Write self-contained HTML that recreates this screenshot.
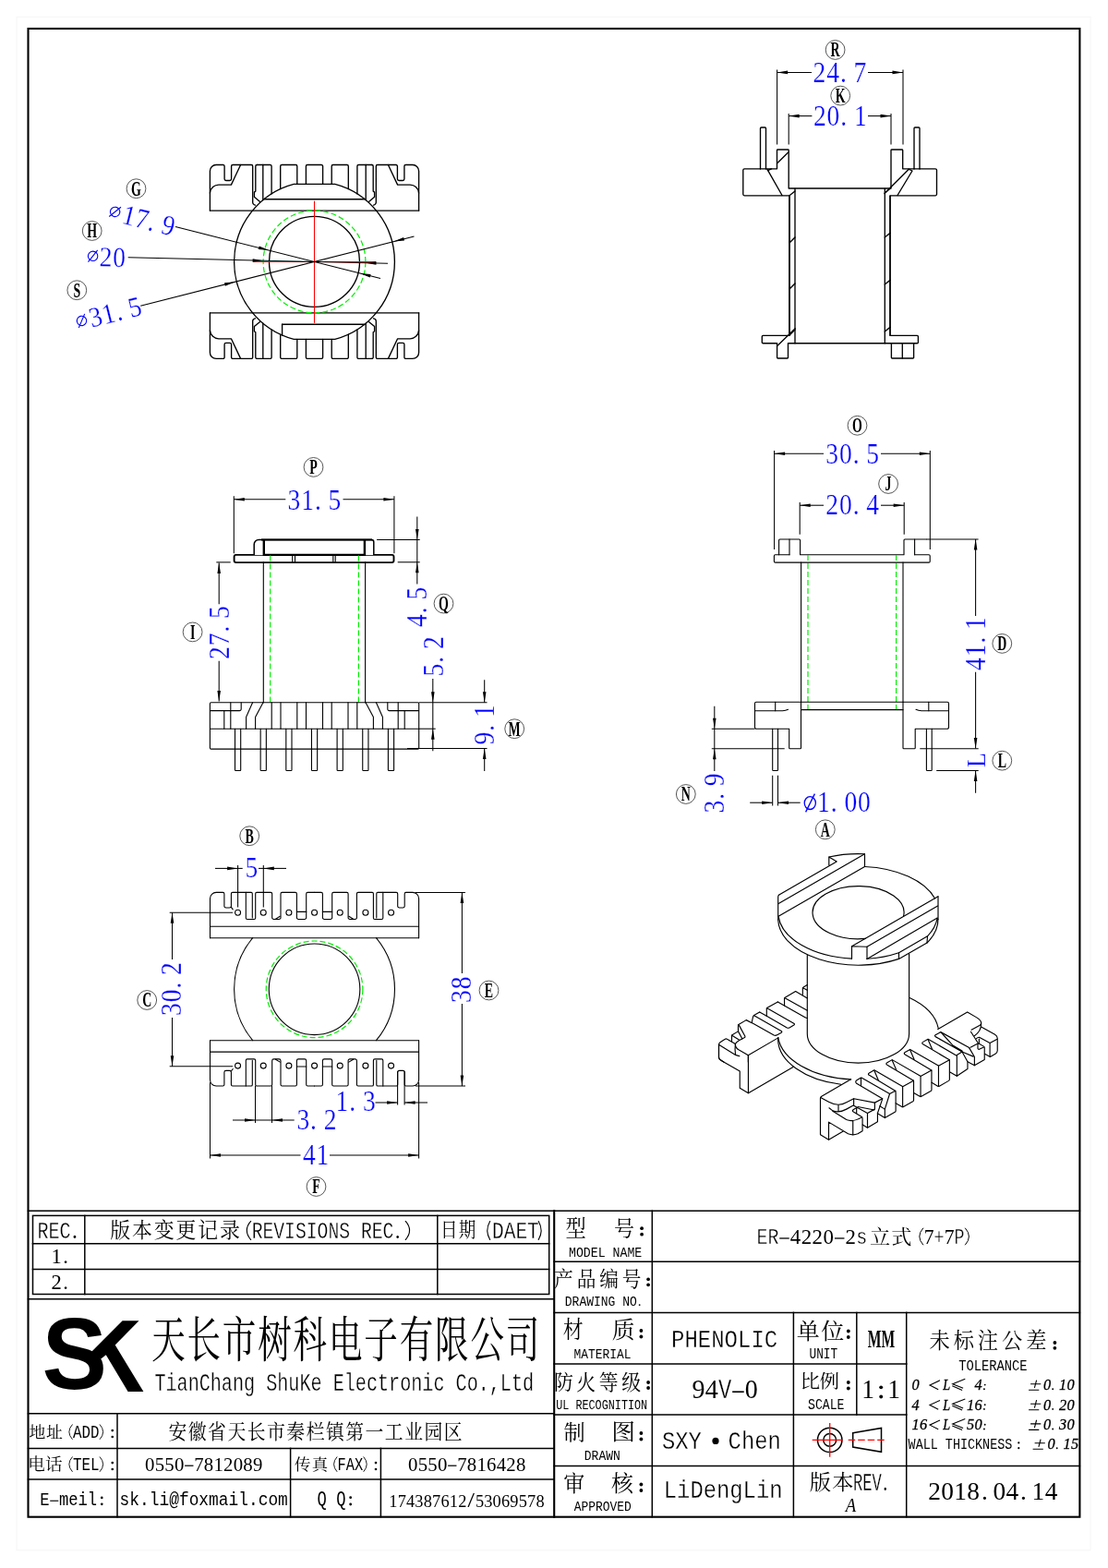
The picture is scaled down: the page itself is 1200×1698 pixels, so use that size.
<!DOCTYPE html>
<html><head><meta charset="utf-8"><title>ER-4220-2s</title>
<style>html,body{margin:0;padding:0;background:#fff}svg{display:block}
.o{fill:none;stroke:#000;stroke-width:1.35;stroke-linecap:round;stroke-linejoin:round}
.d{fill:none;stroke:#000;stroke-width:1.05;stroke-linecap:butt}
.t{fill:none;stroke:#000;stroke-width:1.5;stroke-linecap:square}
.T{fill:none;stroke:#000;stroke-width:2.1;stroke-linecap:square}
.g{fill:none;stroke:#00f000;stroke-width:1.2;stroke-dasharray:6 3}
.r{fill:none;stroke:#f00;stroke-width:1.1}
.af{fill:#000;stroke:none}
.c{fill:none;stroke:#444;stroke-width:0.9}
text{white-space:pre}
.thin .o{stroke-width:1.1}
.iso .o{stroke-width:1.15}
svg{will-change:transform}
</style></head>
<body><svg width="1200" height="1698" viewBox="0 0 1200 1698">
<rect width="1200" height="1698" fill="#fff"/>
<rect x="18" y="18.3" width="1163" height="1660.5" fill="none" stroke="#f6f6f6" stroke-width="1"/>
<rect class="T" x="30.5" y="31" width="1138.9" height="1611.7"/>
<path class="t" d="M30.50 1311.20L1169.40 1311.20"/>
<rect class="t" x="35.5" y="1316.4" width="559.2" height="85.1"/>
<path class="t" d="M35.50 1346.80L594.70 1346.80"/>
<path class="t" d="M35.50 1374.40L594.70 1374.40"/>
<path class="t" d="M91.80 1316.40L91.80 1401.50"/>
<path class="t" d="M473.80 1316.40L473.80 1401.50"/>
<path class="t" d="M30.50 1406.70L600.00 1406.70"/>
<path class="T" d="M600.20 1311.20L600.20 1642.70"/>
<path class="t" d="M30.50 1530.80L600.00 1530.80"/>
<path class="t" d="M30.50 1568.40L600.00 1568.40"/>
<path class="t" d="M30.50 1602.10L600.00 1602.10"/>
<path class="t" d="M127.00 1530.80L127.00 1642.70"/>
<path class="t" d="M314.60 1568.40L314.60 1642.70"/>
<path class="t" d="M412.40 1568.40L412.40 1642.70"/>
<path class="t" d="M600.00 1366.30L1169.40 1366.30"/>
<path class="t" d="M600.00 1421.40L1169.40 1421.40"/>
<path class="t" d="M600.00 1477.00L981.70 1477.00"/>
<path class="t" d="M600.00 1532.00L981.70 1532.00"/>
<path class="t" d="M600.00 1587.40L1169.40 1587.40"/>
<path class="t" d="M706.30 1311.20L706.30 1642.70"/>
<path class="t" d="M859.40 1421.40L859.40 1642.70"/>
<path class="t" d="M927.80 1421.40L927.80 1532.00"/>
<path class="t" d="M981.70 1421.40L981.70 1642.70"/>
<text transform="translate(40.60,1341.00) scale(0.7531,1)" font-family="'Liberation Mono',monospace" font-size="26.56" fill="#000" x="0.00 15.93 31.87" stroke="#fff" stroke-width="0.35">REC</text>
<text transform="translate(76.60,1341.00) scale(0.8938,1)" font-family="'Liberation Serif',serif" font-size="26.32" fill="#000" x="1.61" >.</text>
<text transform="translate(119.31,1340.12) scale(0.9694,1)" font-family="'Liberation Serif','Noto Serif CJK SC',serif" font-size="22.57" fill="#000" x="0.00 24.48 48.96 73.44 97.92 122.40">版本变更记录</text>
<path d="M271.68 1322.47Q262.93 1332.50 271.68 1342.53" fill="none" stroke="#000" stroke-width="1.10" stroke-linecap="round"/>
<text transform="translate(272.63,1341.00) scale(0.7643,1)" font-family="'Liberation Mono',monospace" font-size="25.80" fill="#000" x="0.00 15.48 30.96 46.43 61.91 77.39 92.87 108.35 123.82" stroke="#fff" stroke-width="0.35">REVISIONS</text>
<text transform="translate(390.93,1341.00) scale(0.7643,1)" font-family="'Liberation Mono',monospace" font-size="25.80" fill="#000" x="0.00 15.48 30.96" stroke="#fff" stroke-width="0.35">REC</text>
<text transform="translate(426.42,1341.00) scale(0.9070,1)" font-family="'Liberation Serif',serif" font-size="25.56" fill="#000" x="1.57" >.</text>
<path d="M439.20 1322.47Q447.95 1332.50 439.20 1342.53" fill="none" stroke="#000" stroke-width="1.10" stroke-linecap="round"/>
<text transform="translate(55.20,1368.00)" font-family="'Liberation Serif',serif" font-size="22.56" fill="#000" x="0.19 13.05" >1.</text>
<text transform="translate(55.20,1395.70)" font-family="'Liberation Serif',serif" font-size="22.56" fill="#000" x="0.19 13.05" >2.</text>
<text transform="translate(477.05,1338.98) scale(0.8600,1)" font-family="'Liberation Serif','Noto Serif CJK SC',serif" font-size="21.58" fill="#000" x="0.00 22.79">日期</text>
<path d="M530.68 1322.47Q524.90 1332.50 530.68 1342.53" fill="none" stroke="#000" stroke-width="1.10" stroke-linecap="round"/>
<text transform="translate(533.00,1341.00) scale(0.8205,1)" font-family="'Liberation Mono',monospace" font-size="25.80" fill="#000" x="0.00 15.48 30.96 46.43" stroke="#fff" stroke-width="0.35">DAET</text>
<path d="M583.22 1322.47Q589.00 1332.50 583.22 1342.53" fill="none" stroke="#000" stroke-width="1.10" stroke-linecap="round"/>
<path fill="#000" d="M132.6 1430.2L150.5 1430.2L124.7 1456.4L155.4 1507.1L138.6 1507.1L114.8 1467.2L109.3 1471.6L99 1464Z"/>
<text transform="translate(45.60,1504.40) scale(0.9590,1)" font-family="'Liberation Sans',sans-serif" font-size="110.20" fill="#000" font-weight="bold" >S</text>
<text transform="translate(164.16,1470.42) scale(0.6865,1)" font-family="'Liberation Serif','Noto Serif CJK SC',serif" font-size="53.11" fill="#000" x="0.00 55.88 111.76 167.63 223.51 279.39 335.27 391.15 447.03 502.91 558.78">天长市树科电子有限公司</text>
<text transform="translate(167.40,1506.10) scale(0.7095,1)" font-family="'Liberation Mono',monospace" font-size="28.38" fill="#000" x="0.00 17.03 34.05 51.08 68.10 85.13 102.15 119.18 136.21" stroke="#fff" stroke-width="0.35">TianChang</text>
<text transform="translate(288.20,1506.10) scale(0.7095,1)" font-family="'Liberation Mono',monospace" font-size="28.38" fill="#000" x="0.00 17.03 34.05 51.08 68.10" stroke="#fff" stroke-width="0.35">ShuKe</text>
<text transform="translate(360.68,1506.10) scale(0.7095,1)" font-family="'Liberation Mono',monospace" font-size="28.38" fill="#000" x="0.00 17.03 34.05 51.08 68.10 85.13 102.15 119.18 136.21 153.23" stroke="#fff" stroke-width="0.35">Electronic</text>
<text transform="translate(493.56,1506.10) scale(0.7095,1)" font-family="'Liberation Mono',monospace" font-size="28.38" fill="#000" x="0.00 17.03 34.05 51.08 68.10 85.13 102.15" stroke="#fff" stroke-width="0.35">Co.,Ltd</text>
<text transform="translate(31.41,1556.57) scale(1.0778,1)" font-family="'Liberation Serif','Noto Serif CJK SC',serif" font-size="16.59" fill="#000" x="0.00 17.35">地址</text>
<path d="M78.24 1542.80Q71.21 1550.65 78.24 1558.50" fill="none" stroke="#000" stroke-width="0.90" stroke-linecap="round"/>
<text transform="translate(79.00,1557.30) scale(0.7845,1)" font-family="'Liberation Mono',monospace" font-size="20.18" fill="#000" x="0.00 12.11 24.22" >ADD</text>
<path d="M108.26 1542.80Q115.29 1550.65 108.26 1558.50" fill="none" stroke="#000" stroke-width="0.90" stroke-linecap="round"/>
<circle cx="121.75" cy="1549.05" r="1.33" fill="#000"/><circle cx="121.75" cy="1555.97" r="1.33" fill="#000"/>
<text transform="translate(182.53,1558.06) scale(0.9290,1)" font-family="'Liberation Serif','Noto Serif CJK SC',serif" font-size="21.29" fill="#000" x="0.00 22.93 45.86 68.78 91.71 114.64 137.57 160.50 183.42 206.35 229.28 252.21 275.14 298.06 320.99">安徽省天长市秦栏镇第一工业园区</text>
<text transform="translate(30.24,1592.40) scale(1.0480,1)" font-family="'Liberation Serif','Noto Serif CJK SC',serif" font-size="17.72" fill="#000" x="0.00 17.84">电话</text>
<path d="M78.24 1577.80Q71.21 1585.65 78.24 1593.50" fill="none" stroke="#000" stroke-width="0.90" stroke-linecap="round"/>
<text transform="translate(79.00,1592.30) scale(0.7845,1)" font-family="'Liberation Mono',monospace" font-size="20.18" fill="#000" x="0.00 12.11 24.22" >TEL</text>
<path d="M108.26 1577.80Q115.29 1585.65 108.26 1593.50" fill="none" stroke="#000" stroke-width="0.90" stroke-linecap="round"/>
<circle cx="121.75" cy="1584.05" r="1.33" fill="#000"/><circle cx="121.75" cy="1590.97" r="1.33" fill="#000"/>
<text transform="translate(157.00,1592.60) scale(0.9481,1)" font-family="'Liberation Serif',serif" font-size="21.95" fill="#000" x="0.11 11.31 22.51 33.72" >0550</text>
<path d="M200.12 1587.20H209.46" stroke="#000" stroke-width="1.24" fill="none"/>
<text transform="translate(210.10,1592.60) scale(0.9481,1)" font-family="'Liberation Serif',serif" font-size="21.95" fill="#000" x="0.11 11.31 22.51 33.72 44.92 56.12 67.32" >7812089</text>
<text transform="translate(318.94,1591.92) scale(1.0050,1)" font-family="'Liberation Serif','Noto Serif CJK SC',serif" font-size="17.37" fill="#000" x="0.00 18.60">传真</text>
<path d="M364.86 1577.80Q358.06 1585.65 364.86 1593.50" fill="none" stroke="#000" stroke-width="0.90" stroke-linecap="round"/>
<text transform="translate(365.60,1592.30) scale(0.7597,1)" font-family="'Liberation Mono',monospace" font-size="20.18" fill="#000" x="0.00 12.11 24.22" >FAX</text>
<path d="M393.94 1577.80Q400.74 1585.65 393.94 1593.50" fill="none" stroke="#000" stroke-width="0.90" stroke-linecap="round"/>
<circle cx="407.00" cy="1584.05" r="1.33" fill="#000"/><circle cx="407.00" cy="1590.97" r="1.33" fill="#000"/>
<text transform="translate(442.00,1592.60) scale(0.9481,1)" font-family="'Liberation Serif',serif" font-size="21.95" fill="#000" x="0.11 11.31 22.51 33.72" >0550</text>
<path d="M485.12 1587.20H494.46" stroke="#000" stroke-width="1.24" fill="none"/>
<text transform="translate(495.10,1592.60) scale(0.9481,1)" font-family="'Liberation Serif',serif" font-size="21.95" fill="#000" x="0.11 11.31 22.51 33.72 44.92 56.12 67.32" >7816428</text>
<text transform="translate(43.30,1630.20) scale(0.8442,1)" font-family="'Liberation Mono',monospace" font-size="20.33" fill="#000" x="0.00" >E</text>
<path d="M54.22 1625.24H63.28" stroke="#000" stroke-width="1.14" fill="none"/>
<text transform="translate(63.90,1630.20) scale(0.8442,1)" font-family="'Liberation Mono',monospace" font-size="20.33" fill="#000" x="0.00 12.20 24.40 36.60" >meil</text>
<circle cx="110.25" cy="1621.89" r="1.34" fill="#000"/><circle cx="110.25" cy="1628.86" r="1.34" fill="#000"/>
<text transform="translate(129.60,1630.20) scale(0.8787,1)" font-family="'Liberation Mono',monospace" font-size="20.33" fill="#000" x="0.00 12.20 24.40 36.60 48.80 61.00 73.20 85.40 97.60 109.80 122.00 134.20 146.40 158.60 170.80 183.00 195.20" >sk.li@foxmail.com</text>
<text transform="translate(343.60,1630.40) scale(0.8081,1)" font-family="'Liberation Mono',monospace" font-size="21.24" fill="#000" x="0.00" >Q</text>
<text transform="translate(364.20,1630.40) scale(0.8081,1)" font-family="'Liberation Mono',monospace" font-size="21.24" fill="#000" x="0.00" >Q</text>
<circle cx="379.65" cy="1621.72" r="1.40" fill="#000"/><circle cx="379.65" cy="1629.00" r="1.40" fill="#000"/>
<text transform="translate(421.20,1632.20) scale(0.9531,1)" font-family="'Liberation Serif',serif" font-size="19.25" fill="#000" x="0.10 9.92 19.74 29.56 39.38 49.20 59.02 68.84 78.66" >174387612</text>
<text transform="translate(505.44,1632.20) scale(0.8032,1)" font-family="'Liberation Mono',monospace" font-size="19.42" fill="#000" x="0.00" >/</text>
<text transform="translate(514.80,1632.20) scale(0.9531,1)" font-family="'Liberation Serif',serif" font-size="19.25" fill="#000" x="0.10 9.92 19.74 29.56 39.38 49.20 59.02 68.84" >53069578</text>
<text transform="translate(612.57,1338.71) scale(0.9006,1)" font-family="'Liberation Serif','Noto Serif CJK SC',serif" font-size="24.75" fill="#000">型</text>
<text transform="translate(665.05,1338.61) scale(0.9130,1)" font-family="'Liberation Serif','Noto Serif CJK SC',serif" font-size="24.18" fill="#000">号</text>
<circle cx="695.1" cy="1330.2" r="1.9"/><circle cx="695.1" cy="1336.7" r="1.9"/>
<text transform="translate(616.00,1360.50) scale(0.8798,1)" font-family="'Liberation Mono',monospace" font-size="15.02" fill="#000" x="0.00 9.01 18.03 27.04 36.05" >MODEL</text>
<text transform="translate(663.58,1360.50) scale(0.8798,1)" font-family="'Liberation Mono',monospace" font-size="15.02" fill="#000" x="0.00 9.01 18.03 27.04" >NAME</text>
<text transform="translate(600.05,1392.72) scale(0.8994,1)" font-family="'Liberation Serif','Noto Serif CJK SC',serif" font-size="23.07" fill="#000" x="0.00 27.35 54.70 82.05">产品编号</text>
<circle cx="702.1" cy="1385.3" r="1.9"/><circle cx="702.1" cy="1391.3" r="1.9"/>
<text transform="translate(611.80,1414.20) scale(0.8399,1)" font-family="'Liberation Mono',monospace" font-size="15.48" fill="#000" x="0.00 9.29 18.57 27.86 37.15 46.43 55.72" >DRAWING</text>
<text transform="translate(674.20,1414.20) scale(0.8399,1)" font-family="'Liberation Mono',monospace" font-size="15.48" fill="#000" x="0.00 9.29" >NO</text>
<text transform="translate(689.80,1414.20) scale(0.9967,1)" font-family="'Liberation Serif',serif" font-size="15.34" fill="#000" x="0.94" >.</text>
<text transform="translate(609.87,1448.97) scale(0.8564,1)" font-family="'Liberation Serif','Noto Serif CJK SC',serif" font-size="25.62" fill="#000">材</text>
<text transform="translate(662.84,1448.91) scale(0.9756,1)" font-family="'Liberation Serif','Noto Serif CJK SC',serif" font-size="25.43" fill="#000">质</text>
<circle cx="694.4" cy="1441" r="1.9"/><circle cx="694.4" cy="1447.5" r="1.9"/>
<text transform="translate(621.60,1471.20) scale(0.8345,1)" font-family="'Liberation Mono',monospace" font-size="15.48" fill="#000" x="0.00 9.29 18.57 27.86 37.15 46.43 55.72 65.01" >MATERIAL</text>
<text transform="translate(599.97,1505.23) scale(0.9067,1)" font-family="'Liberation Serif','Noto Serif CJK SC',serif" font-size="23.04" fill="#000" x="0.00 26.91 53.82 80.73">防火等级</text>
<circle cx="702.1" cy="1497" r="1.9"/><circle cx="702.1" cy="1503" r="1.9"/>
<text transform="translate(602.20,1525.60) scale(0.7613,1)" font-family="'Liberation Mono',monospace" font-size="15.48" fill="#000" x="0.00 9.29" >UL</text>
<text transform="translate(623.41,1525.60) scale(0.7613,1)" font-family="'Liberation Mono',monospace" font-size="15.48" fill="#000" x="0.00 9.29 18.57 27.86 37.15 46.43 55.72 65.01 74.29 83.58 92.87" >RECOGNITION</text>
<text transform="translate(610.44,1559.38) scale(1.0017,1)" font-family="'Liberation Serif','Noto Serif CJK SC',serif" font-size="23.25" fill="#000">制</text>
<text transform="translate(662.16,1559.37) scale(1.0940,1)" font-family="'Liberation Serif','Noto Serif CJK SC',serif" font-size="23.58" fill="#000">图</text>
<circle cx="694.4" cy="1552" r="1.9"/><circle cx="694.4" cy="1558.5" r="1.9"/>
<text transform="translate(632.80,1581.40) scale(0.8399,1)" font-family="'Liberation Mono',monospace" font-size="15.48" fill="#000" x="0.00 9.29 18.57 27.86 37.15" >DRAWN</text>
<text transform="translate(610.28,1615.14) scale(0.9680,1)" font-family="'Liberation Serif','Noto Serif CJK SC',serif" font-size="23.71" fill="#000">审</text>
<text transform="translate(661.94,1615.11) scale(1.0040,1)" font-family="'Liberation Serif','Noto Serif CJK SC',serif" font-size="23.82" fill="#000">核</text>
<circle cx="694.4" cy="1607.5" r="1.9"/><circle cx="694.4" cy="1614" r="1.9"/>
<text transform="translate(621.70,1636.40) scale(0.8345,1)" font-family="'Liberation Mono',monospace" font-size="15.48" fill="#000" x="0.00 9.29 18.57 27.86 37.15 46.43 55.72 65.01" >APPROVED</text>
<text transform="translate(819.60,1346.60) scale(0.8635,1)" font-family="'Liberation Mono',monospace" font-size="23.07" fill="#000" x="0.00 13.84" stroke="#fff" stroke-width="0.35">ER</text>
<path d="M844.22 1340.98H854.73" stroke="#000" stroke-width="1.29" fill="none"/>
<text transform="translate(855.45,1346.60)" font-family="'Liberation Serif',serif" font-size="22.86" fill="#000" x="0.26 12.21 24.16 36.11" >4220</text>
<path d="M903.97 1340.98H914.48" stroke="#000" stroke-width="1.29" fill="none"/>
<text transform="translate(915.20,1346.60)" font-family="'Liberation Serif',serif" font-size="22.86" fill="#000" x="0.26" >2</text>
<text transform="translate(927.15,1346.60) scale(0.8635,1)" font-family="'Liberation Mono',monospace" font-size="23.07" fill="#000" x="0.00" stroke="#fff" stroke-width="0.35">s</text>
<text transform="translate(941.94,1347.44) scale(1.0388,1)" font-family="'Liberation Serif','Noto Serif CJK SC',serif" font-size="21.37" fill="#000" x="0.00 22.43">立式</text>
<path d="M999.72 1330.03Q991.58 1339.00 999.72 1347.97" fill="none" stroke="#000" stroke-width="0.99" stroke-linecap="round"/>
<text transform="translate(1000.60,1346.60) scale(0.9433,1)" font-family="'Liberation Serif',serif" font-size="22.86" fill="#000" x="0.12" >7</text>
<text transform="translate(1011.60,1346.60) scale(0.7948,1)" font-family="'Liberation Mono',monospace" font-size="23.07" fill="#000" x="0.00" stroke="#fff" stroke-width="0.35">+</text>
<text transform="translate(1022.60,1346.60) scale(0.9433,1)" font-family="'Liberation Serif',serif" font-size="22.86" fill="#000" x="0.12" >7</text>
<text transform="translate(1033.60,1346.60) scale(0.7948,1)" font-family="'Liberation Mono',monospace" font-size="23.07" fill="#000" x="0.00" stroke="#fff" stroke-width="0.35">P</text>
<path d="M1045.48 1330.03Q1053.62 1339.00 1045.48 1347.97" fill="none" stroke="#000" stroke-width="0.99" stroke-linecap="round"/>
<text transform="translate(727.00,1458.60) scale(0.8503,1)" font-family="'Liberation Mono',monospace" font-size="28.22" fill="#000" x="0.00 16.93 33.87 50.80 67.74 84.67 101.61 118.54" stroke="#fff" stroke-width="0.35">PHENOLIC</text>
<text transform="translate(749.40,1514.40) scale(0.9608,1)" font-family="'Liberation Serif',serif" font-size="29.17" fill="#000" x="0.15 15.03" >94</text>
<text transform="translate(778.00,1514.40) scale(0.8096,1)" font-family="'Liberation Mono',monospace" font-size="29.44" fill="#000" x="0.00" stroke="#fff" stroke-width="0.35">V</text>
<path d="M793.16 1507.22H805.74" stroke="#000" stroke-width="1.65" fill="none"/>
<text transform="translate(806.60,1514.40) scale(0.9608,1)" font-family="'Liberation Serif',serif" font-size="29.17" fill="#000" x="0.15" >0</text>
<text transform="translate(717.00,1569.40) scale(0.8354,1)" font-family="'Liberation Mono',monospace" font-size="28.53" fill="#000" x="0.00 17.12 34.23" stroke="#fff" stroke-width="0.35">SXY</text>
<circle cx="775.0" cy="1560.4" r="3.6" fill="#000"/>
<text transform="translate(788.60,1569.40) scale(0.8354,1)" font-family="'Liberation Mono',monospace" font-size="28.53" fill="#000" x="0.00 17.12 34.23 51.35" stroke="#fff" stroke-width="0.35">Chen</text>
<text transform="translate(718.80,1622.40) scale(0.8444,1)" font-family="'Liberation Mono',monospace" font-size="28.22" fill="#000" x="0.00 16.93 33.87 50.80 67.74 84.67 101.61 118.54 135.48" stroke="#fff" stroke-width="0.35">LiDengLin</text>
<text transform="translate(862.87,1450.08) scale(1.0443,1)" font-family="'Liberation Serif','Noto Serif CJK SC',serif" font-size="23.95" fill="#000" x="0.00 25.18">单位</text>
<circle cx="918.8" cy="1441.5" r="1.9"/><circle cx="918.8" cy="1448" r="1.9"/>
<text transform="translate(876.50,1471.40) scale(0.7927,1)" font-family="'Liberation Mono',monospace" font-size="16.08" fill="#000" x="0.00 9.65 19.30 28.95" >UNIT</text>
<text transform="translate(954.50,1459.00) scale(0.5600,1)" font-family="'Liberation Serif',serif" font-size="27.80" fill="#000" text-anchor="middle" font-weight="bold" >MM</text>
<text transform="translate(866.41,1503.12) scale(1.0405,1)" font-family="'Liberation Serif','Noto Serif CJK SC',serif" font-size="20.73" fill="#000" x="0.00 20.37">比例</text>
<circle cx="918.8" cy="1497" r="1.9"/><circle cx="918.8" cy="1503.5" r="1.9"/>
<text transform="translate(875.00,1525.60) scale(0.8186,1)" font-family="'Liberation Mono',monospace" font-size="16.08" fill="#000" x="0.00 9.65 19.30 28.95 38.60" >SCALE</text>
<text transform="translate(933.20,1514.40) scale(0.9406,1)" font-family="'Liberation Serif',serif" font-size="29.17" fill="#000" x="0.15" >1</text>
<circle cx="954.20" cy="1502.37" r="1.94" fill="#000"/><circle cx="954.20" cy="1512.46" r="1.94" fill="#000"/>
<text transform="translate(961.20,1514.40) scale(0.9406,1)" font-family="'Liberation Serif',serif" font-size="29.17" fill="#000" x="0.15" >1</text>
<circle class="t" cx="898.70" cy="1559.40" r="13.20"/>
<circle class="t" cx="898.70" cy="1559.40" r="6.90"/>
<path d="M879.7 1559.4H912.7M898.7 1541V1577.8" fill="none" stroke="#f00" stroke-width="1.3"/>
<path class="t" d="M923.70 1551.70L954.50 1546.50L954.50 1572.30L923.70 1567.00Z" />
<path d="M918.7 1559.4H959.5" fill="none" stroke="#f00" stroke-width="1.3" stroke-dasharray="7.5 3"/>
<text transform="translate(876.77,1612.53) scale(1.0329,1)" font-family="'Liberation Serif','Noto Serif CJK SC',serif" font-size="22.52" fill="#000" x="0.00 23.82">版本</text>
<text transform="translate(924.00,1614.20) scale(0.6285,1)" font-family="'Liberation Mono',monospace" font-size="27.31" fill="#000" x="0.00 16.39 32.78" stroke="#fff" stroke-width="0.35">REV</text>
<text transform="translate(954.90,1614.20) scale(0.7458,1)" font-family="'Liberation Serif',serif" font-size="27.07" fill="#000" x="1.66" >.</text>
<text transform="translate(921.50,1637.00) scale(0.8500,1)" font-family="'Liberation Serif',serif" font-size="22.00" fill="#000" text-anchor="middle" font-style="italic" >A</text>
<text transform="translate(1006.46,1460.15) scale(0.9457,1)" font-family="'Liberation Serif','Noto Serif CJK SC',serif" font-size="23.57" fill="#000" x="0.00 27.70 55.41 83.11 110.82">未标注公差</text>
<circle cx="1142.4" cy="1454" r="1.9"/><circle cx="1142.4" cy="1459.8" r="1.9"/>
<text transform="translate(1038.20,1483.60) scale(0.8489,1)" font-family="'Liberation Mono',monospace" font-size="16.24" fill="#000" x="0.00 9.74 19.48 29.23 38.97 48.71 58.45 68.19 77.94" >TOLERANCE</text>
<text transform="translate(987.60,1505.20) scale(0.9700,1)" font-family="'Liberation Serif',serif" font-size="16.84" fill="#000" font-style="italic" stroke="#000" stroke-width="0.3">0</text>
<path d="M1018.00 1494.78L1007.00 1499.94L1016.20 1504.64" fill="none" stroke="#000" stroke-width="1.1"/>
<text transform="translate(1021.30,1505.20) scale(0.8500,1)" font-family="'Liberation Serif',serif" font-size="16.84" fill="#000" font-style="italic" stroke="#000" stroke-width="0.3">L</text>
<path d="M1045.30 1493.33L1031.70 1498.70L1043.10 1503.30M1031.30 1500.72L1042.10 1505.42" fill="none" stroke="#000" stroke-width="1.1"/>
<text transform="translate(1055.60,1505.20) scale(0.9700,1)" font-family="'Liberation Serif',serif" font-size="16.84" fill="#000" font-style="italic" stroke="#000" stroke-width="0.3">4</text>
<circle cx="1066.70" cy="1499.60" r="0.95"/><circle cx="1065.90" cy="1504.30" r="0.95"/>
<text transform="translate(987.60,1526.80) scale(0.9700,1)" font-family="'Liberation Serif',serif" font-size="16.84" fill="#000" font-style="italic" stroke="#000" stroke-width="0.3">4</text>
<path d="M1018.00 1516.38L1007.00 1521.54L1016.20 1526.24" fill="none" stroke="#000" stroke-width="1.1"/>
<text transform="translate(1021.30,1526.80) scale(0.8500,1)" font-family="'Liberation Serif',serif" font-size="16.84" fill="#000" font-style="italic" stroke="#000" stroke-width="0.3">L</text>
<path d="M1045.30 1514.93L1031.70 1520.30L1043.10 1524.90M1031.30 1522.32L1042.10 1527.02" fill="none" stroke="#000" stroke-width="1.1"/>
<text transform="translate(1047.10,1526.80) scale(0.9700,1)" font-family="'Liberation Serif',serif" font-size="16.84" fill="#000" font-style="italic" stroke="#000" stroke-width="0.3">1</text>
<text transform="translate(1055.60,1526.80) scale(0.9700,1)" font-family="'Liberation Serif',serif" font-size="16.84" fill="#000" font-style="italic" stroke="#000" stroke-width="0.3">6</text>
<circle cx="1066.70" cy="1521.20" r="0.95"/><circle cx="1065.90" cy="1525.90" r="0.95"/>
<text transform="translate(987.60,1548.40) scale(0.9700,1)" font-family="'Liberation Serif',serif" font-size="16.84" fill="#000" font-style="italic" stroke="#000" stroke-width="0.3">1</text>
<text transform="translate(996.10,1548.40) scale(0.9700,1)" font-family="'Liberation Serif',serif" font-size="16.84" fill="#000" font-style="italic" stroke="#000" stroke-width="0.3">6</text>
<path d="M1018.00 1537.98L1007.00 1543.14L1016.20 1547.84" fill="none" stroke="#000" stroke-width="1.1"/>
<text transform="translate(1021.30,1548.40) scale(0.8500,1)" font-family="'Liberation Serif',serif" font-size="16.84" fill="#000" font-style="italic" stroke="#000" stroke-width="0.3">L</text>
<path d="M1045.30 1536.53L1031.70 1541.90L1043.10 1546.50M1031.30 1543.92L1042.10 1548.62" fill="none" stroke="#000" stroke-width="1.1"/>
<text transform="translate(1047.10,1548.40) scale(0.9700,1)" font-family="'Liberation Serif',serif" font-size="16.84" fill="#000" font-style="italic" stroke="#000" stroke-width="0.3">5</text>
<text transform="translate(1055.60,1548.40) scale(0.9700,1)" font-family="'Liberation Serif',serif" font-size="16.84" fill="#000" font-style="italic" stroke="#000" stroke-width="0.3">0</text>
<circle cx="1066.70" cy="1542.80" r="0.95"/><circle cx="1065.90" cy="1547.50" r="0.95"/>
<path d="M1116.10 1498.70H1127.30M1122.60 1494.56L1120.40 1502.96M1114.10 1505.20H1125.30" fill="none" stroke="#000" stroke-width="1.1"/>
<text transform="translate(1130.10,1505.20) scale(0.9700,1)" font-family="'Liberation Serif',serif" font-size="16.84" fill="#000" font-style="italic" stroke="#000" stroke-width="0.3">0</text>
<circle cx="1140.20" cy="1504.30" r="0.95"/>
<text transform="translate(1147.10,1505.20) scale(0.9700,1)" font-family="'Liberation Serif',serif" font-size="16.84" fill="#000" font-style="italic" stroke="#000" stroke-width="0.3">1</text>
<text transform="translate(1155.60,1505.20) scale(0.9700,1)" font-family="'Liberation Serif',serif" font-size="16.84" fill="#000" font-style="italic" stroke="#000" stroke-width="0.3">0</text>
<path d="M1116.10 1520.30H1127.30M1122.60 1516.16L1120.40 1524.56M1114.10 1526.80H1125.30" fill="none" stroke="#000" stroke-width="1.1"/>
<text transform="translate(1130.10,1526.80) scale(0.9700,1)" font-family="'Liberation Serif',serif" font-size="16.84" fill="#000" font-style="italic" stroke="#000" stroke-width="0.3">0</text>
<circle cx="1140.20" cy="1525.90" r="0.95"/>
<text transform="translate(1147.10,1526.80) scale(0.9700,1)" font-family="'Liberation Serif',serif" font-size="16.84" fill="#000" font-style="italic" stroke="#000" stroke-width="0.3">2</text>
<text transform="translate(1155.60,1526.80) scale(0.9700,1)" font-family="'Liberation Serif',serif" font-size="16.84" fill="#000" font-style="italic" stroke="#000" stroke-width="0.3">0</text>
<path d="M1116.10 1541.90H1127.30M1122.60 1537.76L1120.40 1546.16M1114.10 1548.40H1125.30" fill="none" stroke="#000" stroke-width="1.1"/>
<text transform="translate(1130.10,1548.40) scale(0.9700,1)" font-family="'Liberation Serif',serif" font-size="16.84" fill="#000" font-style="italic" stroke="#000" stroke-width="0.3">0</text>
<circle cx="1140.20" cy="1547.50" r="0.95"/>
<text transform="translate(1147.10,1548.40) scale(0.9700,1)" font-family="'Liberation Serif',serif" font-size="16.84" fill="#000" font-style="italic" stroke="#000" stroke-width="0.3">3</text>
<text transform="translate(1155.60,1548.40) scale(0.9700,1)" font-family="'Liberation Serif',serif" font-size="16.84" fill="#000" font-style="italic" stroke="#000" stroke-width="0.3">0</text>
<text transform="translate(983.60,1569.20) scale(0.7894,1)" font-family="'Liberation Mono',monospace" font-size="17.00" fill="#000" x="0.00 10.20 20.39 30.59" >WALL</text>
<text transform="translate(1023.85,1569.20) scale(0.7894,1)" font-family="'Liberation Mono',monospace" font-size="17.00" fill="#000" x="0.00 10.20 20.39 30.59 40.79 50.99 61.18 71.38 81.58" >THICKNESS</text>
<circle cx="1103.3" cy="1562.4" r="1.1"/><circle cx="1103.3" cy="1568.2" r="1.1"/>
<path d="M1120.60 1562.70H1131.80M1127.10 1558.56L1124.90 1566.96M1118.60 1569.20H1129.80" fill="none" stroke="#000" stroke-width="1.1"/>
<text transform="translate(1134.60,1569.20) scale(0.9700,1)" font-family="'Liberation Serif',serif" font-size="16.84" fill="#000" font-style="italic" stroke="#000" stroke-width="0.3">0</text>
<circle cx="1144.70" cy="1568.30" r="0.95"/>
<text transform="translate(1151.60,1569.20) scale(0.9700,1)" font-family="'Liberation Serif',serif" font-size="16.84" fill="#000" font-style="italic" stroke="#000" stroke-width="0.3">1</text>
<text transform="translate(1160.10,1569.20) scale(0.9700,1)" font-family="'Liberation Serif',serif" font-size="16.84" fill="#000" font-style="italic" stroke="#000" stroke-width="0.3">5</text>
<text transform="translate(1005.00,1624.40)" font-family="'Liberation Serif',serif" font-size="27.37" fill="#000" x="0.18 14.23 28.28 42.33 57.89 70.43 84.48 100.04 112.58 126.63" >2018.04.14</text>
<path class="o" d="M227.40 228.10L227.40 185.20A6.7 6.7 0 0 1 234.10 178.50L241.60 178.50A1.5 1.5 0 0 1 243.10 180.00L243.10 193.80A1.7 1.7 0 0 0 244.80 195.50L248.90 195.50A1.7 1.7 0 0 0 250.60 193.80L250.60 180.00A1.5 1.5 0 0 1 252.10 178.50L272.20 178.50A1.5 1.5 0 0 1 273.70 180.00L273.70 218.50A3.2 3.2 0 0 0 276.50 222.10" />
<path class="o" d="M260.60 178.50L250.40 200.10L237.20 200.10A9.6 9.6 0 0 0 227.40 209.00" />
<path class="o" d="M278.30 178.50A1.5 1.5 0 0 0 276.80 180.00L276.80 207.10L275.40 208.10L275.40 213.30L281.60 218.50" />
<path class="o" d="M278.30 178.50L292.60 178.50A1.5 1.5 0 0 1 294.10 180.00L294.10 209.92" />
<path class="o" d="M284.80 178.50L284.80 216.70" />
<path class="o" d="M303.70 204.68L303.70 180.00A1.5 1.5 0 0 1 305.20 178.50L320.30 178.50A1.5 1.5 0 0 1 321.80 180.00L321.80 199.40" />
<path class="o" d="M453.60 228.10L453.60 185.20A6.7 6.7 0 0 0 446.90 178.50L439.40 178.50A1.5 1.5 0 0 0 437.90 180.00L437.90 193.80A1.7 1.7 0 0 1 436.20 195.50L432.10 195.50A1.7 1.7 0 0 1 430.40 193.80L430.40 180.00A1.5 1.5 0 0 0 428.90 178.50L408.80 178.50A1.5 1.5 0 0 0 407.30 180.00L407.30 218.50A3.2 3.2 0 0 1 404.50 222.10" />
<path class="o" d="M420.40 178.50L430.60 200.10L443.80 200.10A9.6 9.6 0 0 1 453.60 209.00" />
<path class="o" d="M402.70 178.50A1.5 1.5 0 0 1 404.20 180.00L404.20 207.10L405.60 208.10L405.60 213.30L399.40 218.50" />
<path class="o" d="M402.70 178.50L388.40 178.50A1.5 1.5 0 0 0 386.90 180.00L386.90 209.92" />
<path class="o" d="M396.20 178.50L396.20 216.70" />
<path class="o" d="M377.30 204.68L377.30 180.00A1.5 1.5 0 0 0 375.80 178.50L360.70 178.50A1.5 1.5 0 0 0 359.20 180.00L359.20 199.40" />
<path class="o" d="M331.4 199.40L331.4 180.00A1.5 1.5 0 0 1 332.9 178.50L348.1 178.50A1.5 1.5 0 0 1 349.6 180.00L349.6 199.40" />
<path class="o" d="M227.40 228.10L453.75 228.10"/>
<path class="o" d="M286.02 215.70L394.98 215.70"/>
<path class="o" d="M227.40 338.80L227.40 381.70A6.7 6.7 0 0 0 234.10 388.40L241.60 388.40A1.5 1.5 0 0 0 243.10 386.90L243.10 373.10A1.7 1.7 0 0 1 244.80 371.40L248.90 371.40A1.7 1.7 0 0 1 250.60 373.10L250.60 386.90A1.5 1.5 0 0 0 252.10 388.40L272.20 388.40A1.5 1.5 0 0 0 273.70 386.90L273.70 348.40A3.2 3.2 0 0 1 276.50 344.80" />
<path class="o" d="M260.60 388.40L250.40 366.80L237.20 366.80A9.6 9.6 0 0 1 227.40 357.90" />
<path class="o" d="M278.30 388.40A1.5 1.5 0 0 1 276.80 386.90L276.80 359.80L275.40 358.80L275.40 353.60L281.60 348.40" />
<path class="o" d="M278.30 388.40L292.60 388.40A1.5 1.5 0 0 0 294.10 386.90L294.10 356.88" />
<path class="o" d="M284.80 388.40L284.80 350.10" />
<path class="o" d="M303.70 362.12L303.70 386.90A1.5 1.5 0 0 0 305.20 388.40L320.30 388.40A1.5 1.5 0 0 0 321.80 386.90L321.80 367.40" />
<path class="o" d="M453.60 338.80L453.60 381.70A6.7 6.7 0 0 1 446.90 388.40L439.40 388.40A1.5 1.5 0 0 1 437.90 386.90L437.90 373.10A1.7 1.7 0 0 0 436.20 371.40L432.10 371.40A1.7 1.7 0 0 0 430.40 373.10L430.40 386.90A1.5 1.5 0 0 1 428.90 388.40L408.80 388.40A1.5 1.5 0 0 1 407.30 386.90L407.30 348.40A3.2 3.2 0 0 0 404.50 344.80" />
<path class="o" d="M420.40 388.40L430.60 366.80L443.80 366.80A9.6 9.6 0 0 0 453.60 357.90" />
<path class="o" d="M402.70 388.40A1.5 1.5 0 0 0 404.20 386.90L404.20 359.80L405.60 358.80L405.60 353.60L399.40 348.40" />
<path class="o" d="M402.70 388.40L388.40 388.40A1.5 1.5 0 0 1 386.90 386.90L386.90 356.88" />
<path class="o" d="M396.20 388.40L396.20 350.10" />
<path class="o" d="M377.30 362.12L377.30 386.90A1.5 1.5 0 0 1 375.80 388.40L360.70 388.40A1.5 1.5 0 0 1 359.20 386.90L359.20 367.40" />
<path class="o" d="M331.4 367.40L331.4 386.90A1.5 1.5 0 0 0 332.9 388.40L348.1 388.40A1.5 1.5 0 0 0 349.6 386.90L349.6 367.40" />
<path class="o" d="M227.40 338.80L453.75 338.80"/>
<path class="o" d="M305.60 351.20L394.86 351.20"/>
<path class="o" d="M305.60 351.20L305.60 362.98"/>
<path class="o" d="M362.76 199.40A86.9 86.9 0 0 1 362.76 367.40L318.24 367.40A86.9 86.9 0 0 1 318.24 199.40Z" />
<circle class="o" cx="340.50" cy="283.40" r="49.00"/>
<circle class="g" cx="340.5" cy="283.4" r="55.4" stroke-dasharray="7.5 3"/>
<path class="r" d="M340.50 217.70L340.50 349.80"/>
<path class="r" d="M274.00 283.50L407.00 283.50"/>
<path class="d" d="M190.00 245.60L412.00 301.40"/>
<path class="d" d="M138.70 278.70L420.00 285.30"/>
<path class="d" d="M152.20 331.20L448.50 256.00"/>
<path class="af" d="M291.40 271.10L279.81 270.04L280.69 266.55Z"/>
<path class="af" d="M390.00 295.90L401.59 296.96L400.71 300.45Z"/>
<path class="af" d="M285.10 282.20L273.56 283.73L273.65 280.13Z"/>
<path class="af" d="M396.00 284.70L407.54 283.17L407.45 286.77Z"/>
<path class="af" d="M254.60 305.20L243.90 309.77L243.01 306.28Z"/>
<path class="af" d="M426.40 261.60L437.10 257.03L437.99 260.52Z"/>
<g transform="translate(124.60,229.40) rotate(14.1)" fill="none" stroke="#00f" stroke-width="1.1"><circle r="5.2"/><path d="M-4.94 6.50L4.94 -6.50"/></g>
<text transform="translate(131.50,241.70) rotate(14.1) scale(0.9000,1)" font-family="'Liberation Serif',serif" font-size="30.60" fill="#00f" x="-1.00 15.30 31.60 47.90" stroke="#fff" stroke-width="0.25">17.9</text>
<g transform="translate(100.60,277.30) rotate(1.4)" fill="none" stroke="#00f" stroke-width="1.1"><circle r="5.2"/><path d="M-4.94 6.50L4.94 -6.50"/></g>
<text transform="translate(108.30,288.30) rotate(1.4) scale(0.9000,1)" font-family="'Liberation Serif',serif" font-size="30.60" fill="#00f" x="-1.00 15.30" stroke="#fff" stroke-width="0.25">20</text>
<g transform="translate(88.50,347.40) rotate(-14.3)" fill="none" stroke="#00f" stroke-width="1.1"><circle r="5.2"/><path d="M-4.94 6.50L4.94 -6.50"/></g>
<text transform="translate(100.00,354.60) rotate(-14.3) scale(0.9000,1)" font-family="'Liberation Serif',serif" font-size="30.60" fill="#00f" x="-1.00 15.30 31.60 47.90" stroke="#fff" stroke-width="0.25">31.5</text>
<circle class="c" cx="147.50" cy="204.20" r="10.40"/>
<text transform="translate(147.50,211.50) scale(0.6200,1)" font-family="'Liberation Serif',serif" font-size="22.50" fill="#000" text-anchor="middle" font-weight="bold" >G</text>
<circle class="c" cx="99.70" cy="250.00" r="10.40"/>
<text transform="translate(99.70,257.30) scale(0.6200,1)" font-family="'Liberation Serif',serif" font-size="22.50" fill="#000" text-anchor="middle" font-weight="bold" >H</text>
<circle class="c" cx="83.30" cy="314.20" r="10.40"/>
<text transform="translate(83.30,321.50) scale(0.6200,1)" font-family="'Liberation Serif',serif" font-size="22.50" fill="#000" text-anchor="middle" font-weight="bold" >S</text>
<circle class="c" cx="904.60" cy="54.00" r="10.40"/>
<text transform="translate(904.60,61.30) scale(0.6200,1)" font-family="'Liberation Serif',serif" font-size="22.50" fill="#000" text-anchor="middle" font-weight="bold" >R</text>
<text transform="translate(881.50,89.00) rotate(0) scale(0.9000,1)" font-family="'Liberation Serif',serif" font-size="30.60" fill="#00f" x="-1.00 15.30 31.60 47.90" stroke="#fff" stroke-width="0.25">24.7</text>
<path class="d" d="M841.60 78.40L879.00 78.40"/>
<path class="d" d="M940.00 78.40L978.00 78.40"/>
<path class="af" d="M841.60 78.40L853.10 76.60L853.10 80.20Z"/>
<path class="af" d="M978.00 78.40L966.50 80.20L966.50 76.60Z"/>
<path class="d" d="M841.60 75.60L841.60 156.50"/>
<path class="d" d="M978.00 75.60L978.00 156.50"/>
<circle class="c" cx="910.20" cy="103.60" r="10.40"/>
<text transform="translate(910.20,110.90) scale(0.6200,1)" font-family="'Liberation Serif',serif" font-size="22.50" fill="#000" text-anchor="middle" font-weight="bold" >K</text>
<text transform="translate(881.80,135.60) rotate(0) scale(0.9000,1)" font-family="'Liberation Serif',serif" font-size="30.60" fill="#00f" x="-1.00 15.30 31.60 47.90" stroke="#fff" stroke-width="0.25">20.1</text>
<path class="d" d="M854.20 125.60L879.40 125.60"/>
<path class="d" d="M940.00 125.60L965.00 125.60"/>
<path class="af" d="M854.20 125.60L865.70 123.80L865.70 127.40Z"/>
<path class="af" d="M965.00 125.60L953.50 127.40L953.50 123.80Z"/>
<path class="d" d="M854.20 123.00L854.20 156.50"/>
<path class="d" d="M965.00 123.00L965.00 156.50"/>
<path class="o" d="M823.5 182.8V139a1 1 0 0 1 1-1h4a1 1 0 0 1 1 1V182.8" />
<path class="o" d="M990 182.8V139a1 1 0 0 1 1-1h4a1 1 0 0 1 1 1V182.8" />
<path class="o" d="M823.50 182.80L829.50 182.80"/>
<path class="o" d="M990.00 182.80L996.00 182.80"/>
<path class="o" d="M823.5 182.8H806.3a1.5 1.5 0 0 0-1.5 1.5V210.3a1.5 1.5 0 0 0 1.5 1.5H855" />
<path class="o" d="M829.5 182.8H841.5V162.8a0.8 0.8 0 0 1 0.8-0.8H853.4a0.8 0.8 0 0 1 0.8 0.8V204H965V162.8a0.8 0.8 0 0 1 0.8-0.8H976.9a0.8 0.8 0 0 1 0.8 0.8V182.8H990" />
<path class="o" d="M841.50 177.00L854.20 164.50"/>
<path class="o" d="M831 183.4L847 211.5" />
<path class="o" d="M831.5 184.5L835.5 182.9" />
<path class="o" d="M855 211.8L861 207" />
<path class="o" d="M996 182.8H1013a1.5 1.5 0 0 1 1.5 1.5V210.3a1.5 1.5 0 0 1-1.5 1.5H964" />
<path class="o" d="M984 183.5L958 209.5" />
<path class="o" d="M984 183.2L988 185L972 211.5" />
<path d="M855 211.8V363.4M964 211.8V363.4" fill="none" stroke="#000" stroke-width="1.8"/>
<path class="o" d="M861.00 204.50L861.00 371.70"/>
<path class="o" d="M958.30 204.50L958.30 371.70"/>
<path class="o" d="M855.00 263.00L861.00 257.00"/>
<path class="o" d="M855.00 313.00L861.00 307.00"/>
<path class="o" d="M855.00 363.00L861.00 357.00"/>
<path class="o" d="M958.30 257.00L964.00 252.40"/>
<path class="o" d="M958.30 308.00L964.00 303.40"/>
<path class="o" d="M958.30 359.00L964.00 354.40"/>
<path class="o" d="M958.30 209.00L964.00 204.20"/>
<path class="o" d="M855 363.4H826.3a1 1 0 0 0-1 1V370.7a1 1 0 0 0 1 1H841.6V387.2a0.8 0.8 0 0 0 0.8 0.8H852.7a0.8 0.8 0 0 0 0.8-0.8V371.7H965.4V387.2a0.8 0.8 0 0 0 0.8 0.8H988.8a0.8 0.8 0 0 0 0.8-0.8V371.7H993.4a1 1 0 0 0 1-1V364.4a1 1 0 0 0-1-1H964" />
<path class="o" d="M841.60 374.80L861.20 355.80"/>
<path class="o" d="M977.30 371.70L977.30 388.00"/>
<path class="o" d="M965.40 371.70L989.60 371.70"/>
<g class="thin">
<circle class="c" cx="339.50" cy="505.90" r="10.40"/>
<text transform="translate(339.50,513.20) scale(0.6200,1)" font-family="'Liberation Serif',serif" font-size="22.50" fill="#000" text-anchor="middle" font-weight="bold" >P</text>
<text transform="translate(312.50,551.50) rotate(0) scale(0.9000,1)" font-family="'Liberation Serif',serif" font-size="30.60" fill="#00f" x="-1.00 15.30 31.60 47.90" stroke="#fff" stroke-width="0.25">31.5</text>
<path class="d" d="M253.30 540.80L309.30 540.80"/>
<path class="d" d="M371.50 540.80L426.90 540.80"/>
<path class="af" d="M253.30 540.80L264.80 539.00L264.80 542.60Z"/>
<path class="af" d="M426.90 540.80L415.40 542.60L415.40 539.00Z"/>
<path class="d" d="M253.30 537.30L253.30 599.20"/>
<path class="d" d="M426.90 537.30L426.90 599.20"/>
<rect x="253.6" y="600.9" width="172.9" height="8.2" rx="2" fill="none" stroke="#000" stroke-width="1.9"/>
<path d="M275.2 601V589.5a5 5 0 0 1 5-5H402.3a2.5 2.5 0 0 1 2.5 2.5V601" fill="#fff" stroke="#000" stroke-width="1.5"/>
<path d="M283 584.5H403" fill="none" stroke="#000" stroke-width="2.2"/>
<path d="M285.8 584.5V600.9H394.9V584.5" fill="none" stroke="#000" stroke-width="2.4"/>
<path class="o" d="M316.70 601.30L316.70 608.80"/>
<path class="o" d="M319.50 601.30L319.50 608.80"/>
<path class="o" d="M360.80 601.30L360.80 608.80"/>
<path class="o" d="M363.20 601.30L363.20 608.80"/>
<path class="o" d="M285.30 608.80L285.30 760.70"/>
<path class="o" d="M395.60 608.80L395.60 760.70"/>
<path class="g" d="M292.7 601.5V760.7M388.4 601.5V760.7" stroke-dasharray="7 3"/>
<rect class="o" x="227.4" y="760.7" width="226.3" height="50.4" rx="1.2"/>
<path class="o" d="M227.40 789.20L453.70 789.20"/>
<path class="o" d="M227.4 769.6H259.4A1.8 1.8 0 0 0 261.2 767.8V760.7" />
<path class="o" d="M242.80 769.60L242.80 789.20"/>
<path class="o" d="M249.80 760.70L249.80 789.20"/>
<path class="o" d="M273.6 760.7L266.6 776.5V789.2" />
<path class="o" d="M285 760.7L276.6 776.5V789.2" />
<path class="o" d="M294.20 760.70L294.20 789.20"/>
<path class="o" d="M304.00 760.70L304.00 789.20"/>
<path class="o" d="M321.80 760.70L321.80 789.20"/>
<path class="o" d="M331.50 760.70L331.50 789.20"/>
<path class="o" d="M453.6 769.6H421.6A1.8 1.8 0 0 1 419.8 767.8V760.7" />
<path class="o" d="M438.20 769.60L438.20 789.20"/>
<path class="o" d="M431.20 760.70L431.20 789.20"/>
<path class="o" d="M407.4 760.7L414.4 776.5V789.2" />
<path class="o" d="M396.0 760.7L404.4 776.5V789.2" />
<path class="o" d="M386.80 760.70L386.80 789.20"/>
<path class="o" d="M377.00 760.70L377.00 789.20"/>
<path class="o" d="M359.20 760.70L359.20 789.20"/>
<path class="o" d="M349.50 760.70L349.50 789.20"/>
<path class="o" d="M254.50 789.2V833.7a0.8 0.8 0 0 0 0.8 0.8H259.90a0.8 0.8 0 0 0 0.8-0.8V789.2" />
<path class="o" d="M282.15 789.2V833.7a0.8 0.8 0 0 0 0.8 0.8H287.55a0.8 0.8 0 0 0 0.8-0.8V789.2" />
<path class="o" d="M309.80 789.2V833.7a0.8 0.8 0 0 0 0.8 0.8H315.20a0.8 0.8 0 0 0 0.8-0.8V789.2" />
<path class="o" d="M337.45 789.2V833.7a0.8 0.8 0 0 0 0.8 0.8H342.85a0.8 0.8 0 0 0 0.8-0.8V789.2" />
<path class="o" d="M365.10 789.2V833.7a0.8 0.8 0 0 0 0.8 0.8H370.50a0.8 0.8 0 0 0 0.8-0.8V789.2" />
<path class="o" d="M392.75 789.2V833.7a0.8 0.8 0 0 0 0.8 0.8H398.15a0.8 0.8 0 0 0 0.8-0.8V789.2" />
<path class="o" d="M420.40 789.2V833.7a0.8 0.8 0 0 0 0.8 0.8H425.80a0.8 0.8 0 0 0 0.8-0.8V789.2" />
<path class="d" d="M234.30 608.90L249.70 608.90"/>
<path class="d" d="M237.20 609.60L237.20 654.20"/>
<path class="d" d="M237.20 715.70L237.20 759.60"/>
<path class="af" d="M237.20 609.60L239.00 621.10L235.40 621.10Z"/>
<path class="af" d="M237.20 759.60L235.40 748.10L239.00 748.10Z"/>
<text transform="translate(247.90,713.00) rotate(-90) scale(0.9000,1)" font-family="'Liberation Serif',serif" font-size="30.60" fill="#00f" x="-1.00 15.30 31.60 47.90" stroke="#fff" stroke-width="0.25">27.5</text>
<circle class="c" cx="208.60" cy="684.40" r="10.40"/>
<text transform="translate(208.60,691.70) scale(0.6200,1)" font-family="'Liberation Serif',serif" font-size="22.50" fill="#000" text-anchor="middle" font-weight="bold" >I</text>
<path class="d" d="M408.00 584.50L454.70 584.50"/>
<path class="d" d="M430.70 608.80L454.70 608.80"/>
<path class="d" d="M451.80 559.50L451.80 632.50"/>
<path class="af" d="M451.80 584.50L450.00 573.00L453.60 573.00Z"/>
<path class="af" d="M451.80 608.80L453.60 620.30L450.00 620.30Z"/>
<text transform="translate(461.80,678.00) rotate(-90) scale(0.9000,1)" font-family="'Liberation Serif',serif" font-size="30.60" fill="#00f" x="-1.00 15.30 31.60" stroke="#fff" stroke-width="0.25">4.5</text>
<circle class="c" cx="480.50" cy="653.60" r="10.40"/>
<text transform="translate(480.50,660.90) scale(0.6200,1)" font-family="'Liberation Serif',serif" font-size="22.50" fill="#000" text-anchor="middle" font-weight="bold" >Q</text>
<path class="d" d="M453.70 760.80L527.50 760.80"/>
<path class="d" d="M453.70 789.20L471.70 789.20"/>
<path class="d" d="M441.00 810.50L527.50 810.50"/>
<path class="d" d="M468.80 735.00L468.80 813.30"/>
<path class="af" d="M468.80 760.80L467.00 749.30L470.60 749.30Z"/>
<path class="af" d="M468.80 789.20L470.60 800.70L467.00 800.70Z"/>
<text transform="translate(479.70,731.50) rotate(-90) scale(0.9000,1)" font-family="'Liberation Serif',serif" font-size="30.60" fill="#00f" x="-1.00 15.30 31.60" stroke="#fff" stroke-width="0.25">5.2</text>
<path class="d" d="M524.70 736.20L524.70 760.80"/>
<path class="d" d="M524.70 810.50L524.70 835.00"/>
<path class="af" d="M524.70 760.80L522.90 749.30L526.50 749.30Z"/>
<path class="af" d="M524.70 810.50L526.50 822.00L522.90 822.00Z"/>
<text transform="translate(535.20,805.50) rotate(-90) scale(0.9000,1)" font-family="'Liberation Serif',serif" font-size="30.60" fill="#00f" x="-1.00 15.30 31.60" stroke="#fff" stroke-width="0.25">9.1</text>
<circle class="c" cx="557.20" cy="789.20" r="10.40"/>
<text transform="translate(557.20,796.50) scale(0.6200,1)" font-family="'Liberation Serif',serif" font-size="22.50" fill="#000" text-anchor="middle" font-weight="bold" >M</text>
</g>
<g class="thin">
<circle class="c" cx="928.50" cy="460.80" r="10.40"/>
<text transform="translate(928.50,468.10) scale(0.6200,1)" font-family="'Liberation Serif',serif" font-size="22.50" fill="#000" text-anchor="middle" font-weight="bold" >O</text>
<text transform="translate(895.20,501.60) rotate(0) scale(0.9000,1)" font-family="'Liberation Serif',serif" font-size="30.60" fill="#00f" x="-1.00 15.30 31.60 47.90" stroke="#fff" stroke-width="0.25">30.5</text>
<path class="d" d="M838.60 491.20L892.00 491.20"/>
<path class="d" d="M954.00 491.20L1007.30 491.20"/>
<path class="af" d="M838.60 491.20L850.10 489.40L850.10 493.00Z"/>
<path class="af" d="M1007.30 491.20L995.80 493.00L995.80 489.40Z"/>
<path class="d" d="M838.60 488.00L838.60 595.00"/>
<path class="d" d="M1007.30 488.00L1007.30 595.00"/>
<circle class="c" cx="962.10" cy="524.00" r="10.40"/>
<text transform="translate(962.10,531.30) scale(0.6200,1)" font-family="'Liberation Serif',serif" font-size="22.50" fill="#000" text-anchor="middle" font-weight="bold" >J</text>
<text transform="translate(895.20,557.40) rotate(0) scale(0.9000,1)" font-family="'Liberation Serif',serif" font-size="30.60" fill="#00f" x="-1.00 15.30 31.60 47.90" stroke="#fff" stroke-width="0.25">20.4</text>
<path class="d" d="M866.20 547.20L892.00 547.20"/>
<path class="d" d="M954.00 547.20L979.20 547.20"/>
<path class="af" d="M866.20 547.20L877.70 545.40L877.70 549.00Z"/>
<path class="af" d="M979.20 547.20L967.70 549.00L967.70 545.40Z"/>
<path class="d" d="M866.20 544.00L866.20 578.70"/>
<path class="d" d="M979.20 544.00L979.20 578.70"/>
<path class="o" d="M855 600.7H839.6a1.2 1.2 0 0 0-1.2 1.2V607.9a1.2 1.2 0 0 0 1.2 1.2H1006a1.2 1.2 0 0 0 1.2-1.2V601.9a1.2 1.2 0 0 0-1.2-1.2H990.6" />
<path class="o" d="M843.6 600.7V585a1 1 0 0 1 1-1H865.6a1 1 0 0 1 1 1V600.7H979V585a1 1 0 0 1 1-1H1003" />
<path class="o" d="M855.00 584.00L855.00 600.70"/>
<path class="o" d="M990.60 584.00L990.60 600.70"/>
<path class="d" d="M1003.00 584.00L1059.60 584.00"/>
<path class="o" d="M867.60 609.10L867.60 760.30"/>
<path class="o" d="M978.00 609.10L978.00 760.30"/>
<path class="g" d="M875 600.9V768.5M970.6 600.9V768.5" stroke-dasharray="7 3"/>
<path class="o" d="M867.5 760.3H819a1.5 1.5 0 0 0-1.5 1.5V787.7a1.5 1.5 0 0 0 1.5 1.5H854.7V810a0.8 0.8 0 0 0 0.8 0.8H866.7a0.8 0.8 0 0 0 0.8-0.8V760.3" />
<path class="o" d="M817.5 769.7H847.5Q851 769.6 853.5 768.3" />
<path class="o" d="M839.70 760.30L839.70 769.70"/>
<path class="o" d="M978 760.3H1026a1.5 1.5 0 0 1 1.5 1.5V787.7a1.5 1.5 0 0 1-1.5 1.5H991.2V810a0.8 0.8 0 0 1-0.8 0.8H978.8a0.8 0.8 0 0 1-0.8-0.8V760.3" />
<path class="o" d="M1027.5 769.7H998Q994.5 769.6 992 768.3" />
<path class="o" d="M1005.80 760.30L1005.80 769.70"/>
<path class="o" d="M867.50 760.30L978.00 760.30"/>
<path class="o" d="M867.50 768.60L978.00 768.60"/>
<path class="o" d="M836.7 789.2V833.7a0.8 0.8 0 0 0 0.8 0.8H841.7a0.8 0.8 0 0 0 0.8-0.8V789.2" />
<path class="o" d="M1003.4 789.2V833.7a0.8 0.8 0 0 0 0.8 0.8H1008.4a0.8 0.8 0 0 0 0.8-0.8V789.2" />
<path class="d" d="M1056.60 584.00L1056.60 666.90"/>
<path class="d" d="M1056.60 727.80L1056.60 810.60"/>
<path class="af" d="M1056.60 584.00L1058.40 595.50L1054.80 595.50Z"/>
<path class="af" d="M1056.60 810.60L1054.80 799.10L1058.40 799.10Z"/>
<text transform="translate(1067.20,725.00) rotate(-90) scale(0.9000,1)" font-family="'Liberation Serif',serif" font-size="30.60" fill="#00f" x="-1.00 15.30 31.60 47.90" stroke="#fff" stroke-width="0.25">41.1</text>
<circle class="c" cx="1085.30" cy="696.90" r="10.40"/>
<text transform="translate(1085.30,704.20) scale(0.6200,1)" font-family="'Liberation Serif',serif" font-size="22.50" fill="#000" text-anchor="middle" font-weight="bold" >D</text>
<path class="d" d="M996.30 810.80L1059.70 810.80"/>
<path class="d" d="M1014.20 834.50L1059.70 834.50"/>
<path class="d" d="M1056.60 834.50L1056.60 858.80"/>
<path class="af" d="M1056.60 834.50L1058.40 846.00L1054.80 846.00Z"/>
<text transform="translate(1067.30,830.00) rotate(-90) scale(0.9000,1)" font-family="'Liberation Serif',serif" font-size="29.00" fill="#00f" x="-1.00" stroke="#fff" stroke-width="0.25">L</text>
<circle class="c" cx="1085.30" cy="823.70" r="10.40"/>
<text transform="translate(1085.30,831.00) scale(0.6200,1)" font-family="'Liberation Serif',serif" font-size="22.50" fill="#000" text-anchor="middle" font-weight="bold" >L</text>
<path class="d" d="M770.80 789.20L817.50 789.20"/>
<path class="d" d="M770.80 810.80L849.70 810.80"/>
<path class="d" d="M773.80 764.70L773.80 835.00"/>
<path class="af" d="M773.80 789.20L772.00 777.70L775.60 777.70Z"/>
<path class="af" d="M773.80 810.80L775.60 822.30L772.00 822.30Z"/>
<text transform="translate(784.40,879.60) rotate(-90) scale(0.9000,1)" font-family="'Liberation Serif',serif" font-size="30.60" fill="#00f" x="-1.00 15.30 31.60" stroke="#fff" stroke-width="0.25">3.9</text>
<circle class="c" cx="742.80" cy="860.00" r="10.40"/>
<text transform="translate(742.80,867.30) scale(0.6200,1)" font-family="'Liberation Serif',serif" font-size="22.50" fill="#000" text-anchor="middle" font-weight="bold" >N</text>
<path class="d" d="M836.70 839.70L836.70 872.50"/>
<path class="d" d="M842.50 839.70L842.50 872.50"/>
<path class="d" d="M812.20 869.20L836.70 869.20"/>
<path class="d" d="M842.50 869.20L866.70 869.20"/>
<path class="af" d="M836.70 869.20L825.20 871.00L825.20 867.40Z"/>
<path class="af" d="M842.50 869.20L854.00 867.40L854.00 871.00Z"/>
<g fill="none" stroke="#00f" stroke-width="1.3"><ellipse cx="877.3" cy="869.6" rx="6.1" ry="6.9"/><path d="M872.6 879.4L882.4 859.6"/></g>
<text transform="translate(886.00,879.30) rotate(0) scale(0.9000,1)" font-family="'Liberation Serif',serif" font-size="30.60" fill="#00f" x="-1.00 15.30 31.60 47.90" stroke="#fff" stroke-width="0.25">1.00</text>
<circle class="c" cx="893.80" cy="898.30" r="10.40"/>
<text transform="translate(893.80,905.60) scale(0.6200,1)" font-family="'Liberation Serif',serif" font-size="22.50" fill="#000" text-anchor="middle" font-weight="bold" >A</text>
</g>
<g class="thin">
<path class="o" d="M227.50 1015.70L227.50 973.10A6.7 6.7 0 0 1 234.20 966.40L241.40 966.40A1.5 1.5 0 0 1 242.90 967.90L242.90 981.20A1.8 1.8 0 0 0 244.70 983.00L248.60 983.00A1.8 1.8 0 0 0 250.40 981.20L250.40 967.90A1.5 1.5 0 0 1 251.90 966.40L272.00 966.40A1.3 1.3 0 0 1 273.30 967.70L273.30 994.00" />
<path class="o" d="M266.30 966.40L266.30 994.00A1.5 1.5 0 0 0 267.80 995.50L275.20 995.50A1.5 1.5 0 0 0 276.70 994.00L276.70 967.70A1.3 1.3 0 0 1 278.00 966.40L293.20 966.40A1.5 1.5 0 0 1 294.70 967.90L294.70 993.70A1.8 1.8 0 0 0 296.50 995.50L302.20 995.50A1.8 1.8 0 0 0 304.00 993.70L304.00 967.90A1.5 1.5 0 0 1 305.50 966.40L319.90 966.40A1.5 1.5 0 0 1 321.40 967.90L321.40 993.70A1.8 1.8 0 0 0 323.20 995.50L329.90 995.50A1.8 1.8 0 0 0 331.70 993.70L331.70 967.90A1.5 1.5 0 0 1 333.20 966.40L340.55 966.40" />
<path class="o" d="M321.40 987.40L331.70 987.40"/>
<path class="o" d="M298.50 995.20L303.30 992.30" />
<path class="o" d="M250.40 982.40L252.20 984.90" />
<path class="o" d="M453.60 1015.70L453.60 973.10A6.7 6.7 0 0 0 446.90 966.40L439.70 966.40A1.5 1.5 0 0 0 438.20 967.90L438.20 981.20A1.8 1.8 0 0 1 436.40 983.00L432.50 983.00A1.8 1.8 0 0 1 430.70 981.20L430.70 967.90A1.5 1.5 0 0 0 429.20 966.40L409.10 966.40A1.3 1.3 0 0 0 407.80 967.70L407.80 994.00" />
<path class="o" d="M414.80 966.40L414.80 994.00A1.5 1.5 0 0 1 413.30 995.50L405.90 995.50A1.5 1.5 0 0 1 404.40 994.00L404.40 967.70A1.3 1.3 0 0 0 403.10 966.40L387.90 966.40A1.5 1.5 0 0 0 386.40 967.90L386.40 993.70A1.8 1.8 0 0 1 384.60 995.50L378.90 995.50A1.8 1.8 0 0 1 377.10 993.70L377.10 967.90A1.5 1.5 0 0 0 375.60 966.40L361.20 966.40A1.5 1.5 0 0 0 359.70 967.90L359.70 993.70A1.8 1.8 0 0 1 357.90 995.50L351.20 995.50A1.8 1.8 0 0 1 349.40 993.70L349.40 967.90A1.5 1.5 0 0 0 347.90 966.40L340.55 966.40" />
<path class="o" d="M359.70 987.40L349.40 987.40"/>
<path class="o" d="M382.60 995.20L377.80 992.30" />
<path class="o" d="M227.50 1003.30L453.60 1003.30"/>
<path class="o" d="M227.50 1015.70L453.60 1015.70"/>
<circle class="o" cx="257.55" cy="988.30" r="3.00"/>
<circle class="o" cx="285.22" cy="988.30" r="3.00"/>
<circle class="o" cx="312.89" cy="988.30" r="3.00"/>
<circle class="o" cx="340.56" cy="988.30" r="3.00"/>
<circle class="o" cx="368.23" cy="988.30" r="3.00"/>
<circle class="o" cx="395.90" cy="988.30" r="3.00"/>
<circle class="o" cx="423.57" cy="988.30" r="3.00"/>
<path class="o" d="M227.50 1126.70L227.50 1169.30A6.7 6.7 0 0 0 234.20 1176.00L241.40 1176.00A1.5 1.5 0 0 0 242.90 1174.50L242.90 1161.20A1.8 1.8 0 0 1 244.70 1159.40L248.60 1159.40A1.8 1.8 0 0 1 250.40 1161.20L250.40 1174.50A1.5 1.5 0 0 0 251.90 1176.00L272.00 1176.00A1.3 1.3 0 0 0 273.30 1174.70L273.30 1148.40" />
<path class="o" d="M266.30 1176.00L266.30 1148.40A1.5 1.5 0 0 1 267.80 1146.90L275.20 1146.90A1.5 1.5 0 0 1 276.70 1148.40L276.70 1174.70A1.3 1.3 0 0 0 278.00 1176.00L293.20 1176.00A1.5 1.5 0 0 0 294.70 1174.50L294.70 1148.70A1.8 1.8 0 0 1 296.50 1146.90L302.20 1146.90A1.8 1.8 0 0 1 304.00 1148.70L304.00 1174.50A1.5 1.5 0 0 0 305.50 1176.00L319.90 1176.00A1.5 1.5 0 0 0 321.40 1174.50L321.40 1148.70A1.8 1.8 0 0 1 323.20 1146.90L329.90 1146.90A1.8 1.8 0 0 1 331.70 1148.70L331.70 1174.50A1.5 1.5 0 0 0 333.20 1176.00L340.55 1176.00" />
<path class="o" d="M321.40 1155.00L331.70 1155.00"/>
<path class="o" d="M298.50 1147.20L303.30 1150.10" />
<path class="o" d="M250.40 1160.00L252.20 1157.50" />
<path class="o" d="M453.60 1126.70L453.60 1169.30A6.7 6.7 0 0 1 446.90 1176.00L439.70 1176.00A1.5 1.5 0 0 1 438.20 1174.50L438.20 1161.20A1.8 1.8 0 0 0 436.40 1159.40L432.50 1159.40A1.8 1.8 0 0 0 430.70 1161.20L430.70 1174.50A1.5 1.5 0 0 1 429.20 1176.00L409.10 1176.00A1.3 1.3 0 0 1 407.80 1174.70L407.80 1148.40" />
<path class="o" d="M414.80 1176.00L414.80 1148.40A1.5 1.5 0 0 0 413.30 1146.90L405.90 1146.90A1.5 1.5 0 0 0 404.40 1148.40L404.40 1174.70A1.3 1.3 0 0 1 403.10 1176.00L387.90 1176.00A1.5 1.5 0 0 1 386.40 1174.50L386.40 1148.70A1.8 1.8 0 0 0 384.60 1146.90L378.90 1146.90A1.8 1.8 0 0 0 377.10 1148.70L377.10 1174.50A1.5 1.5 0 0 1 375.60 1176.00L361.20 1176.00A1.5 1.5 0 0 1 359.70 1174.50L359.70 1148.70A1.8 1.8 0 0 0 357.90 1146.90L351.20 1146.90A1.8 1.8 0 0 0 349.40 1148.70L349.40 1174.50A1.5 1.5 0 0 1 347.90 1176.00L340.55 1176.00" />
<path class="o" d="M359.70 1155.00L349.40 1155.00"/>
<path class="o" d="M382.60 1147.20L377.80 1150.10" />
<path class="o" d="M227.50 1139.10L453.60 1139.10"/>
<path class="o" d="M227.50 1126.70L453.60 1126.70"/>
<circle class="o" cx="257.55" cy="1154.10" r="3.00"/>
<circle class="o" cx="285.22" cy="1154.10" r="3.00"/>
<circle class="o" cx="312.89" cy="1154.10" r="3.00"/>
<circle class="o" cx="340.56" cy="1154.10" r="3.00"/>
<circle class="o" cx="368.23" cy="1154.10" r="3.00"/>
<circle class="o" cx="395.90" cy="1154.10" r="3.00"/>
<circle class="o" cx="423.57" cy="1154.10" r="3.00"/>
<path class="o" d="M273.63 1015.7A87.0 87.0 0 0 0 273.63 1126.7" />
<path class="o" d="M407.47 1015.7A87.0 87.0 0 0 1 407.47 1126.7" />
<circle class="o" cx="340.55" cy="1071.30" r="49.30"/>
<circle class="g" cx="340.55" cy="1071.3" r="52.3" stroke-dasharray="7 2.6"/>
<circle class="c" cx="270.20" cy="905.20" r="10.40"/>
<text transform="translate(270.20,912.50) scale(0.6200,1)" font-family="'Liberation Serif',serif" font-size="22.50" fill="#000" text-anchor="middle" font-weight="bold" >B</text>
<path class="d" d="M257.60 937.00L257.60 982.50"/>
<path class="d" d="M285.30 937.00L285.30 982.50"/>
<path class="d" d="M233.00 940.40L262.70 940.40"/>
<path class="d" d="M280.00 940.40L310.00 940.40"/>
<path class="af" d="M257.60 940.40L246.10 942.20L246.10 938.60Z"/>
<path class="af" d="M285.30 940.40L296.80 938.60L296.80 942.20Z"/>
<text transform="translate(266.30,950.40) rotate(0) scale(0.9000,1)" font-family="'Liberation Serif',serif" font-size="30.60" fill="#00f" x="-1.00" stroke="#fff" stroke-width="0.25">5</text>
<path class="d" d="M183.70 988.30L252.00 988.30"/>
<path class="d" d="M183.70 1154.80L252.00 1154.80"/>
<path class="d" d="M186.50 988.30L186.50 1039.00"/>
<path class="d" d="M186.50 1102.00L186.50 1154.80"/>
<path class="af" d="M186.50 988.30L188.30 999.80L184.70 999.80Z"/>
<path class="af" d="M186.50 1154.80L184.70 1143.30L188.30 1143.30Z"/>
<text transform="translate(196.30,1099.00) rotate(-90) scale(0.9000,1)" font-family="'Liberation Serif',serif" font-size="30.60" fill="#00f" x="-1.00 15.30 31.60 47.90" stroke="#fff" stroke-width="0.25">30.2</text>
<circle class="c" cx="159.20" cy="1083.00" r="10.40"/>
<text transform="translate(159.20,1090.30) scale(0.6200,1)" font-family="'Liberation Serif',serif" font-size="22.50" fill="#000" text-anchor="middle" font-weight="bold" >C</text>
<path class="d" d="M450.00 966.40L504.00 966.40"/>
<path class="d" d="M450.00 1176.00L504.00 1176.00"/>
<path class="d" d="M500.40 966.40L500.40 1054.00"/>
<path class="d" d="M500.40 1087.00L500.40 1176.00"/>
<path class="af" d="M500.40 966.40L502.20 977.90L498.60 977.90Z"/>
<path class="af" d="M500.40 1176.00L498.60 1164.50L502.20 1164.50Z"/>
<text transform="translate(510.40,1085.00) rotate(-90) scale(0.9000,1)" font-family="'Liberation Serif',serif" font-size="30.60" fill="#00f" x="-1.00 15.30" stroke="#fff" stroke-width="0.25">38</text>
<circle class="c" cx="529.50" cy="1072.50" r="10.40"/>
<text transform="translate(529.50,1079.80) scale(0.6200,1)" font-family="'Liberation Serif',serif" font-size="22.50" fill="#000" text-anchor="middle" font-weight="bold" >E</text>
<path class="d" d="M276.50 1176.00L276.50 1216.00"/>
<path class="d" d="M294.50 1176.00L294.50 1216.00"/>
<path class="d" d="M252.00 1213.00L318.70 1213.00"/>
<path class="af" d="M276.50 1213.00L265.00 1214.80L265.00 1211.20Z"/>
<path class="af" d="M294.50 1213.00L306.00 1211.20L306.00 1214.80Z"/>
<text transform="translate(322.30,1222.60) rotate(0) scale(0.9000,1)" font-family="'Liberation Serif',serif" font-size="30.60" fill="#00f" x="-1.00 15.30 31.60" stroke="#fff" stroke-width="0.25">3.2</text>
<path class="d" d="M430.60 1160.00L430.60 1196.50"/>
<path class="d" d="M438.10 1160.00L438.10 1196.50"/>
<path class="d" d="M406.50 1194.00L430.60 1194.00"/>
<path class="d" d="M438.10 1194.00L463.00 1194.00"/>
<path class="af" d="M430.60 1194.00L419.10 1195.80L419.10 1192.20Z"/>
<path class="af" d="M438.10 1194.00L449.60 1192.20L449.60 1195.80Z"/>
<text transform="translate(364.50,1203.20) rotate(0) scale(0.9000,1)" font-family="'Liberation Serif',serif" font-size="30.60" fill="#00f" x="-1.00 15.30 31.60" stroke="#fff" stroke-width="0.25">1.3</text>
<path class="d" d="M227.50 1172.00L227.50 1254.50"/>
<path class="d" d="M453.60 1172.00L453.60 1254.50"/>
<path class="d" d="M227.50 1251.00L325.50 1251.00"/>
<path class="d" d="M357.00 1251.00L453.60 1251.00"/>
<path class="af" d="M227.50 1251.00L239.00 1249.20L239.00 1252.80Z"/>
<path class="af" d="M453.60 1251.00L442.10 1252.80L442.10 1249.20Z"/>
<text transform="translate(328.80,1261.20) rotate(0) scale(0.9000,1)" font-family="'Liberation Serif',serif" font-size="30.60" fill="#00f" x="-1.00 15.30" stroke="#fff" stroke-width="0.25">41</text>
<circle class="c" cx="342.50" cy="1285.00" r="10.40"/>
<text transform="translate(342.50,1292.30) scale(0.6200,1)" font-family="'Liberation Serif',serif" font-size="22.50" fill="#000" text-anchor="middle" font-weight="bold" >F</text>
</g>
<g class="iso">
<path class="o" d="M897.8 928A87 50.2 0 0 1 936.5 924.8" />
<path class="o" d="M897.8 936.8V928L906.2 933L843.4 969.3" />
<path class="o" d="M936.5 924.8L843.2 978.6M936.5 924.8V938.5L843.1 992.3" />
<path class="o" d="M843.4 969.3Q842.7 970 842.7 971.5V996" />
<path class="o" d="M843.1 992.3A87 50.2 0 0 0 922.5 1038.1" />
<path class="o" d="M842.7 996A87 50.2 0 0 0 973.5 1038.4" />
<path class="o" d="M936.5 938.5A87 50.2 0 0 1 1012.6 973.0" />
<path class="o" d="M978.5 992.4A49.5 28.6 0 1 0 937.5 1016.4" />
<path class="o" d="M1016 970.8L922.5 1024.8M1015.6 981L939 1025.2M1015.2 994L939 1038.4" />
<path class="o" d="M1016 970.8V995.5M922.5 1024.8L939 1025.2M922.5 1024.8V1038.2M939 1025.2V1038.4" />
<path class="o" d="M939 1038.3A87 50.2 0 0 0 973.5 1031.7" />
<path class="o" d="M973.5 1031.7L1004.5 1013.8M973.5 1038.4L1004 1021M973.5 1031.7V1038.4M1004.5 1013.8L1004 1021" />
<path class="o" d="M1004.5 1013.8A87 50.2 0 0 0 1015.2 994.2M1004 1021A87 50.2 0 0 0 1016 995.5" />
<path class="o" d="M874.3 1034.2V1119.4A55.15 31.8 0 0 0 984.6 1119.4V1032.7" />
<path class="o" d="M984.6 1080.2A87 50.2 0 0 1 1016.2 1113.4" />
<path class="o" d="M842.8 1123.6A87 50.2 0 0 0 921.6 1168.9" />
<path class="o" d="M842.6 1123.6V1126A87 50.2 0 0 0 910.6 1174.3" />
<g transform="translate(775,1060) scale(0.087500)">
<path class="o" vector-effect="non-scaling-stroke" d="M1135 75L1088 102Q1076 110 1078 122V200"/>
<path class="o" vector-effect="non-scaling-stroke" d="M1085 113L1135 140"/>
<path class="o" vector-effect="non-scaling-stroke" d="M990 155L1135 240"/>
<path class="o" vector-effect="non-scaling-stroke" d="M855 235L990 155"/>
<path class="o" vector-effect="non-scaling-stroke" d="M858 237L1135 392"/>
<path class="o" vector-effect="non-scaling-stroke" d="M852 240V330"/>
<path class="o" vector-effect="non-scaling-stroke" d="M770 285L1108 478Q1122 486 1135 486"/>
<path class="o" vector-effect="non-scaling-stroke" d="M635 360L770 285"/>
<path class="o" vector-effect="non-scaling-stroke" d="M638 362L968 552Q984 562 970 572L918 603Q900 612 884 606L632 460"/>
<path class="o" vector-effect="non-scaling-stroke" d="M632 366V460"/>
<path class="o" vector-effect="non-scaling-stroke" d="M545 412L632 460"/>
<path class="o" vector-effect="non-scaling-stroke" d="M475 452L545 412"/>
<path class="o" vector-effect="non-scaling-stroke" d="M482 456L812 645Q828 655 814 665L762 695Q742 706 722 698L448 543"/>
<path class="o" vector-effect="non-scaling-stroke" d="M475 452Q465 460 462 475L448 540"/>
<path class="o" vector-effect="non-scaling-stroke" d="M380 510L448 545"/>
<path class="o" vector-effect="non-scaling-stroke" d="M280 568L380 510"/>
<path class="o" vector-effect="non-scaling-stroke" d="M290 573L365 712Q368 722 355 728L290 762Q255 782 245 805"/>
<path class="o" vector-effect="non-scaling-stroke" d="M280 570V650L330 742"/>
<path class="o" vector-effect="non-scaling-stroke" d="M200 697L280 650M200 700V775M207 703L290 755"/>
<path class="o" vector-effect="non-scaling-stroke" d="M40 812Q42 795 60 782L118 746Q130 738 142 746L245 805"/>
<path class="o" vector-effect="non-scaling-stroke" d="M40 815L238 938Q260 950 295 955"/>
<path class="o" vector-effect="non-scaling-stroke" d="M245 805Q236 870 246 940"/>
<path class="o" vector-effect="non-scaling-stroke" d="M245 808Q240 850 290 880L404 945"/>
<path class="o" vector-effect="non-scaling-stroke" d="M404 945L775 730"/>
<path class="o" vector-effect="non-scaling-stroke" d="M404 945V1029M40 815V970Q42 990 62 1004L100 1029"/>
</g>
<g transform="translate(775,1120) scale(0.087500)">
<path class="o" vector-effect="non-scaling-stroke" d="M40 130V290Q42 310 70 325L300 458V665L405 728"/>
<path class="o" vector-effect="non-scaling-stroke" d="M405 258V728L960 405"/>
</g>
<g transform="translate(940,1110) scale(0.087500)">
<path class="o" vector-effect="non-scaling-stroke" d="M428 760L78 558L16 594Q-6 607 16 621L343 816"/>
<path class="o" vector-effect="non-scaling-stroke" d="M78 564L128 681"/>
<path class="o" vector-effect="non-scaling-stroke" d="M650 632L300 430L238 466Q216 479 238 493L565 688"/>
<path class="o" vector-effect="non-scaling-stroke" d="M300 436L350 553"/>
<path class="o" vector-effect="non-scaling-stroke" d="M872 504L522 302L460 338Q438 351 460 365L787 560"/>
<path class="o" vector-effect="non-scaling-stroke" d="M522 308L572 425"/>
<path class="o" vector-effect="non-scaling-stroke" d="M1094 376L744 174L682 210Q660 223 682 237L1009 432"/>
<path class="o" vector-effect="non-scaling-stroke" d="M744 180L794 297"/>
<path class="o" vector-effect="non-scaling-stroke" d="M430 762L565 688M430 762V1010M566 690V928Q566 940 556 946L440 1012Q430 1018 420 1012L345 968"/>
<path class="o" vector-effect="non-scaling-stroke" d="M652 634L787 560M652 634V882M788 562V800Q788 812 778 818L662 884Q652 890 642 884L567 840"/>
<path class="o" vector-effect="non-scaling-stroke" d="M874 506L1009 432M874 506V754M1010 434V672Q1010 684 1000 690L884 756Q874 762 864 756L789 712"/>
</g>
<g transform="translate(880,1160) scale(0.087500)">
<path class="o" vector-effect="non-scaling-stroke" d="M475 100L112 312Q98 320 97 334V785L200 848"/>
<path class="o" vector-effect="non-scaling-stroke" d="M105 328L200 380Q320 445 420 385L510 340L770 390L865 340"/>
<path class="o" vector-effect="non-scaling-stroke" d="M600 80L548 112Q522 128 545 152L865 340"/>
<path class="o" vector-effect="non-scaling-stroke" d="M600 84V180M610 82L955 280L1020 245"/>
<path class="o" vector-effect="non-scaling-stroke" d="M955 280L895 470V578M1020 245Q1030 250 1030 262V490Q1030 500 1020 506L895 578L805 522"/>
<path class="o" vector-effect="non-scaling-stroke" d="M865 345L805 520V625L680 700L620 662"/>
<path class="o" vector-effect="non-scaling-stroke" d="M895 470L832 432"/>
<path class="o" vector-effect="non-scaling-stroke" d="M510 340V420L420 470Q330 520 250 490L205 455"/>
<path class="o" vector-effect="non-scaling-stroke" d="M320 420V495"/>
<path class="o" vector-effect="non-scaling-stroke" d="M510 425L680 520L770 470V390"/>
<path class="o" vector-effect="non-scaling-stroke" d="M560 440L765 480M680 520V700"/>
<path class="o" vector-effect="non-scaling-stroke" d="M545 455Q520 465 498 482Q490 492 502 500L610 565Q618 572 618 590V740L560 775Q500 800 440 775L200 630V848L380 742"/>
<path class="o" vector-effect="non-scaling-stroke" d="M545 460V520"/>
<path class="o" vector-effect="non-scaling-stroke" d="M250 495L420 600Q500 635 610 570M500 618V785"/>
</g>
<g transform="translate(1000,1080) scale(0.087500)">
<path class="o" vector-effect="non-scaling-stroke" d="M180 395L545 182L660 250Q722 288 716 325Q718 420 633 476"/>
<path class="o" vector-effect="non-scaling-stroke" d="M714 330Q705 345 695 348L595 402"/>
<path class="o" vector-effect="non-scaling-stroke" d="M588 426L681 571"/>
<path class="o" vector-effect="non-scaling-stroke" d="M716 367L886 460Q915 478 917 505V660Q915 685 895 698L828 736L760 700"/>
<path class="o" vector-effect="non-scaling-stroke" d="M824 567L910 519M657 510Q672 494 692 494L824 567V733"/>
<path class="o" vector-effect="non-scaling-stroke" d="M681 569L752 610Q758 614 757 625V771L633 843"/>
<path class="o" vector-effect="non-scaling-stroke" d="M690 514V567M674 576V630Q676 646 692 644L748 617"/>
<path class="o" vector-effect="non-scaling-stroke" d="M583 619L681 569"/>
<path class="o" vector-effect="non-scaling-stroke" d="M567 624L215 430L150 465Q132 477 155 490L480 675L619 733"/>
<path class="o" vector-effect="non-scaling-stroke" d="M225 440L360 590M360 590L480 662M362 596L480 670"/>
<path class="o" vector-effect="non-scaling-stroke" d="M567 624L633 738V843L548 798"/>
<path class="o" vector-effect="non-scaling-stroke" d="M480 675L548 798V886L415 975"/>
<path class="o" vector-effect="non-scaling-stroke" d="M480 675L415 715V975L330 925"/>
</g>
</g>
</svg></body></html>
